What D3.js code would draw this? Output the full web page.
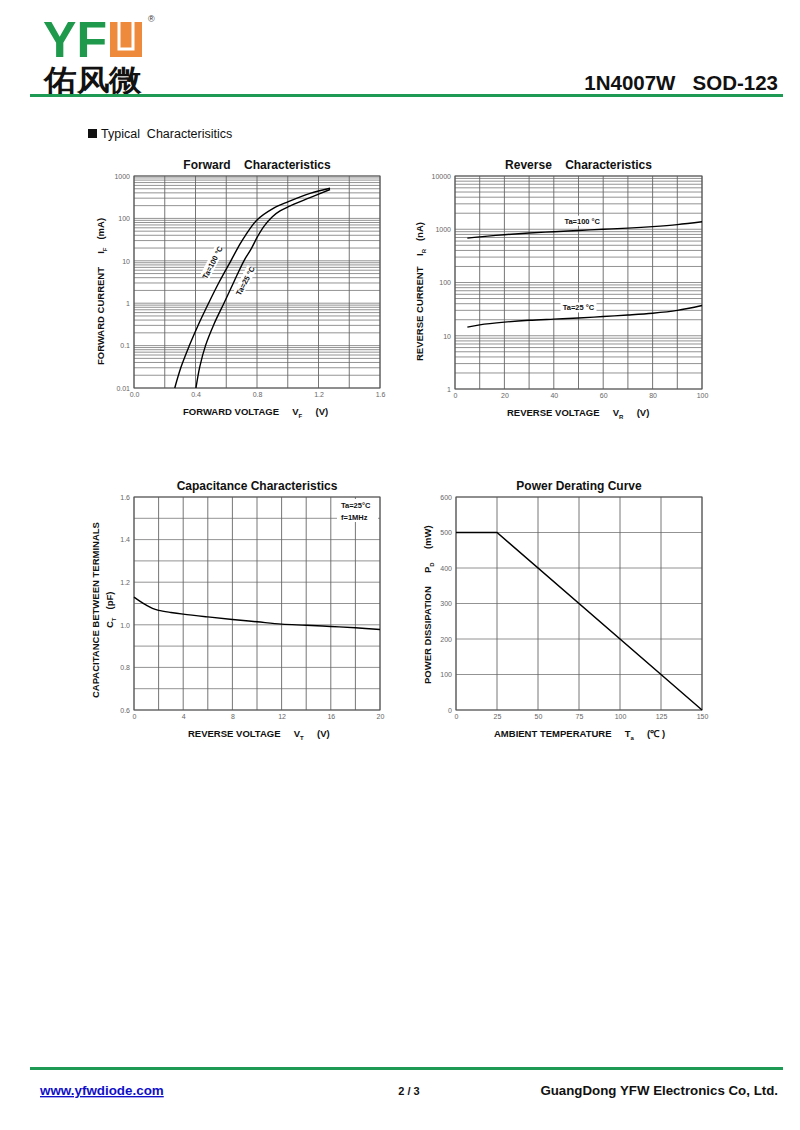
<!DOCTYPE html>
<html>
<head>
<meta charset="utf-8">
<script src="https://cdn.jsdelivr.net/npm/d3@7"></script>
<style>
  body { margin: 0; background: #fff; }
  text { font-family: "Liberation Sans", Arial, sans-serif; }
  .tick text { fill: #666; font-size: 7px; }
</style>
</head>
<body>
<script>
// ---- data ----
var fwd100 = [[0.265,0.01],[0.307,0.032],[0.36,0.1],[0.42,0.32],[0.485,1],[0.555,3.2],[0.63,10],[0.69,25],[0.725,40],[0.80,92],[0.906,173],[1.004,248],[1.145,389],[1.275,513]];
var fwd25  = [[0.403,0.01],[0.428,0.032],[0.465,0.1],[0.52,0.32],[0.585,1],[0.65,3.2],[0.715,10],[0.765,20],[0.805,38],[0.845,65],[0.90,110],[0.95,150],[1.004,189],[1.145,308],[1.275,480]];
var rev100 = [[5,680],[10,720],[20,790],[30,850],[40,900],[50,950],[60,1000],[70,1050],[80,1120],[90,1220],[100,1380]];
var rev25  = [[5,14.5],[10,16],[20,18],[30,19.5],[40,20.5],[50,21.5],[60,23],[70,24.5],[80,26.5],[90,30],[100,37]];
var capCurve = [[0,1.13],[0.5,1.11],[1,1.092],[1.5,1.077],[2,1.068],[3,1.058],[4,1.05],[6,1.037],[8,1.025],[10,1.014],[12,1.003],[14,0.998],[16,0.992],[18,0.986],[20,0.978]];
var powerCurve = [[0,500],[25,500],[150,0]];

// tick values and labels
var fwdXTicks = [0,0.4,0.8,1.2,1.6],        fwdXLabels = ["0.0","0.4","0.8","1.2","1.6"];
var fwdYTicks = [0.01,0.1,1,10,100,1000],   fwdYLabels = ["0.01","0.1","1","10","100","1000"];
var revXTicks = [0,20,40,60,80,100];
var revYTicks = [1,10,100,1000,10000];
var capXTicks = [0,4,8,12,16,20];
var capYTicks = [0.6,0.8,1.0,1.2,1.4,1.6],  capYLabels = ["0.6","0.8","1.0","1.2","1.4","1.6"];
var powXTicks = [0,25,50,75,100,125,150];
var powYTicks = [0,100,200,300,400,500,600];

var fwdXGrid = [0,0.2,0.4,0.6,0.8,1.0,1.2,1.4,1.6];
var revXGrid = [0,10,20,30,40,50,60,70,80,90,100];
var capXGrid = [0,2,4,6,8,10,12,14,16,18,20];
var capYGrid = [0.6,0.7,0.8,0.9,1.0,1.1,1.2,1.3,1.4,1.5,1.6];
var powXGrid = powXTicks;
var powYGrid = powYTicks;

var svg = d3.select("body").append("svg")
            .attr("width", 800)
            .attr("height", 1130);

var green = "#1f9a55";

// ---- header ----
svg.append("text").attr("x", 43).attr("y", 57)
   .attr("font-size", 44).attr("font-weight", "bold").attr("fill", "#1f9a4c")
   .attr("transform", "translate(0,57) scale(1,1.12) translate(0,-57)")
   .attr("textLength", 64).attr("lengthAdjust", "spacingAndGlyphs").text("YF");
svg.append("rect").attr("x", 110).attr("y", 22).attr("width", 32).attr("height", 35).attr("fill", "#ee8a3c");
svg.append("path").attr("d", "M119,22 V49 H133 V22").attr("fill", "none").attr("stroke", "#fff").attr("stroke-width", 3);
svg.append("text").attr("x", 148).attr("y", 22).attr("font-size", 9).attr("fill", "#333").text("®");
svg.append("text").attr("x", 44).attr("y", 90)
   .attr("font-size", 29).attr("font-family", "Noto Sans CJK SC").attr("font-weight", "bold").attr("fill", "#111")
   .attr("textLength", 98).attr("lengthAdjust", "spacingAndGlyphs").text("佑风微");
svg.append("text").attr("x", 778).attr("y", 90).attr("text-anchor", "end")
   .attr("font-size", 20.5).attr("font-weight", "bold").attr("fill", "#111")
   .style("white-space", "pre").text("1N4007W   SOD-123");
svg.append("line").attr("x1", 30).attr("x2", 783).attr("y1", 95.5).attr("y2", 95.5)
   .attr("stroke", green).attr("stroke-width", 3);
svg.append("rect").attr("x", 88).attr("y", 129).attr("width", 9).attr("height", 9).attr("fill", "#111");
svg.append("text").attr("x", 101).attr("y", 138).attr("font-size", 12.5).attr("fill", "#111")
   .style("white-space", "pre").text("Typical  Characterisitics");

// ---- footer ----
svg.append("line").attr("x1", 30).attr("x2", 783).attr("y1", 1068.5).attr("y2", 1068.5)
   .attr("stroke", green).attr("stroke-width", 3);
svg.append("text").attr("x", 40).attr("y", 1095).attr("font-size", 13.4).attr("font-weight", "bold")
   .attr("fill", "#1010c8").attr("text-decoration", "underline").text("www.yfwdiode.com");
svg.append("text").attr("x", 409).attr("y", 1095).attr("text-anchor", "middle").attr("font-size", 11)
   .attr("font-weight", "bold").attr("fill", "#111").text("2 / 3");
svg.append("text").attr("x", 778).attr("y", 1095).attr("text-anchor", "end").attr("font-size", 13.3)
   .attr("font-weight", "bold").attr("fill", "#111").text("GuangDong YFW Electronics Co, Ltd.");

// ---- one chart panel ----
function panel(o) {
  var g = svg.append("g");
  var x = d3.scaleLinear().domain(o.xd).range([o.l, o.r]);
  var y = (o.log ? d3.scaleLog() : d3.scaleLinear()).domain(o.yd).range([o.b, o.t]);
  var yGrid = o.log ? y.ticks() : o.yGrid;

  g.selectAll(".hg").data(yGrid).enter().append("line")
   .attr("x1", o.l).attr("x2", o.r)
   .attr("y1", function(d){ return y(d); }).attr("y2", function(d){ return y(d); })
   .attr("stroke", "#777").attr("stroke-width", 0.8);
  g.selectAll(".vg").data(o.xGrid).enter().append("line")
   .attr("y1", o.t).attr("y2", o.b)
   .attr("x1", function(d){ return x(d); }).attr("x2", function(d){ return x(d); })
   .attr("stroke", "#666").attr("stroke-width", 0.9);
  g.append("rect").attr("x", o.l).attr("y", o.t).attr("width", o.r - o.l).attr("height", o.b - o.t)
   .attr("fill", "none").attr("stroke", "#555").attr("stroke-width", 1);

  var xa = d3.axisBottom(x).tickValues(o.xTicks).tickSize(0).tickPadding(4);
  if (o.xLabels) xa.tickFormat(function(d, i){ return o.xLabels[i]; });
  g.append("g").attr("transform", "translate(0," + o.b + ")").call(xa).call(function(s){ s.select(".domain").remove(); });
  var ya = d3.axisLeft(y).tickValues(o.yTicks).tickSize(0).tickPadding(4);
  ya.tickFormat(o.yLabels ? function(d, i){ return o.yLabels[i]; } : function(d){ return String(d); });
  g.append("g").attr("transform", "translate(" + o.l + ",0)").call(ya).call(function(s){ s.select(".domain").remove(); });

  // notes behind curves
  (o.notes || []).forEach(function(n) {
    var px = x(n.x), py = y(n.y);
    var ng = g.append("g").attr("transform", "translate(" + px + "," + py + ") rotate(" + (n.a || 0) + ")");
    ng.append("rect").attr("x", -n.w / 2).attr("y", -5).attr("width", n.w).attr("height", 10).attr("fill", "#fff");
    ng.append("text").attr("text-anchor", "middle").attr("y", 3).attr("font-size", 7.5)
      .attr("font-weight", "bold").attr("fill", "#111").style("white-space", "pre").text(n.t);
  });

  var line = d3.line().x(function(d){ return x(d[0]); }).y(function(d){ return y(d[1]); })
               .curve(o.straight ? d3.curveLinear : d3.curveCatmullRom.alpha(0.5));
  o.series.forEach(function(s) {
    g.append("path").datum(s).attr("d", line)
     .attr("fill", "none").attr("stroke", "#000").attr("stroke-width", 1.4);
  });

  // title
  g.append("text").attr("x", (o.l + o.r) / 2).attr("y", o.t - 7).attr("text-anchor", "middle")
   .attr("font-size", 12).attr("font-weight", "bold").attr("fill", "#111")
   .style("white-space", "pre").text(o.title);

  // x axis title
  var xt = g.append("text").attr("x", o.xtx).attr("y", o.b + 27).attr("font-size", 9.5)
            .attr("font-weight", "bold").attr("fill", "#111").style("white-space", "pre");
  xt.append("tspan").text(o.xTitle[0]);
  xt.append("tspan").attr("font-size", 6).attr("dy", 3).text(o.xTitle[1]);
  xt.append("tspan").attr("dy", -3).text(o.xTitle[2]);

  // y axis title
  o.yTitles.forEach(function(yt) {
    var t = g.append("text").attr("transform", "translate(" + yt.x + "," + yt.y + ") rotate(-90)")
             .attr("font-size", 9.5).attr("font-weight", "bold").attr("fill", "#111").style("white-space", "pre");
    t.append("tspan").text(yt.p[0]);
    if (yt.p.length > 1) {
      t.append("tspan").attr("font-size", 6).attr("dy", 3).text(yt.p[1]);
      t.append("tspan").attr("dy", -3).text(yt.p[2]);
    }
  });
}

panel({
  l: 134, r: 380, t: 176, b: 388, xd: [0, 1.6], yd: [0.01, 1000], log: true,
  xGrid: fwdXGrid, xTicks: fwdXTicks, xLabels: fwdXLabels, yTicks: fwdYTicks, yLabels: fwdYLabels,
  series: [fwd100, fwd25],
  notes: [{ t: "Ta=100 °C", x: 0.509, y: 9.2, a: -63, w: 34 }, { t: "Ta=25 °C", x: 0.722, y: 3.4, a: -62, w: 30 }],
  title: "Forward    Characteristics",
  xtx: 183, xTitle: ["FORWARD VOLTAGE     V", "F", "     (V)"],
  yTitles: [{ x: 104, y: 365, p: ["FORWARD CURRENT     I", "F", "   (mA)"] }]
});

panel({
  l: 455, r: 702, t: 176, b: 389, xd: [0, 100], yd: [1, 10000], log: true,
  xGrid: revXGrid, xTicks: revXTicks, yTicks: revYTicks,
  series: [rev100, rev25],
  notes: [{ t: "Ta=100 °C", x: 51.5, y: 1450, a: 0, w: 40 }, { t: "Ta=25 °C", x: 50, y: 34, a: 0, w: 36 }],
  title: "Reverse    Characteristics",
  xtx: 507, xTitle: ["REVERSE VOLTAGE     V", "R", "     (V)"],
  yTitles: [{ x: 423, y: 361, p: ["REVERSE CURRENT    I", "R", "   (nA)"] }]
});

panel({
  l: 134, r: 380, t: 497, b: 710, xd: [0, 20], yd: [0.6, 1.6],
  xGrid: capXGrid, yGrid: capYGrid, xTicks: capXTicks, yTicks: capYTicks, yLabels: capYLabels,
  series: [capCurve],
  title: "Capacitance Characteristics",
  xtx: 188, xTitle: ["REVERSE VOLTAGE     V", "T", "     (V)"],
  yTitles: [{ x: 99, y: 698, p: ["CAPACITANCE BETWEEN TERMINALS"] },
            { x: 113, y: 628, p: ["C", "T", "   (pF)"] }]
});

panel({
  l: 456, r: 702, t: 497, b: 710, xd: [0, 150], yd: [0, 600], straight: true,
  xGrid: powXGrid, yGrid: powYGrid, xTicks: powXTicks, yTicks: powYTicks,
  series: [powerCurve],
  title: "Power Derating Curve",
  xtx: 494, xTitle: ["AMBIENT TEMPERATURE     T", "a", "     (℃ )"],
  yTitles: [{ x: 431, y: 684, p: ["POWER DISSIPATION     P", "D", "     (mW)"] }]
});

// capacitance test conditions box
svg.append("rect").attr("x", 337).attr("y", 499).attr("width", 41).attr("height", 23).attr("fill", "#fff");
svg.append("text").attr("x", 341).attr("y", 508).attr("font-size", 7.5).attr("font-weight", "bold").attr("fill", "#111").text("Ta=25°C");
svg.append("text").attr("x", 341).attr("y", 520).attr("font-size", 7.5).attr("font-weight", "bold").attr("fill", "#111").text("f=1MHz");
</script>
</body>
</html>
